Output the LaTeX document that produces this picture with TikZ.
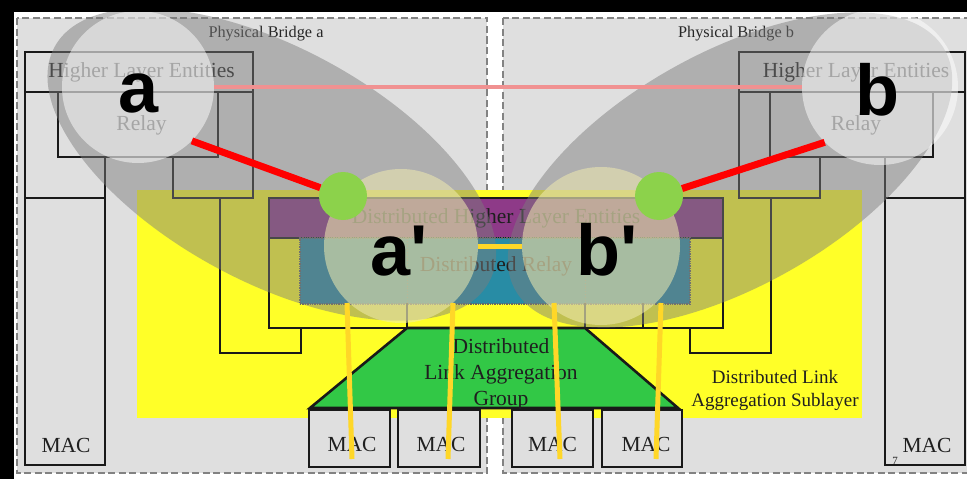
\documentclass[tikz,border=0pt]{standalone}
\usepackage{fontspec}
\setmainfont{Liberation Serif}
\newfontfamily\markfont{Liberation Sans}
\definecolor{bridgebg}{RGB}{223,223,223}
\definecolor{dashgray}{RGB}{130,130,130}
\definecolor{sublayer}{RGB}{255,255,40}
\definecolor{dhle}{RGB}{142,58,136}
\definecolor{drelay}{RGB}{40,140,165}
\definecolor{dlag}{RGB}{50,200,70}
\definecolor{veilgray}{RGB}{124,124,124}
\definecolor{lenstint}{RGB}{240,235,175}
\definecolor{dotgreen}{RGB}{140,210,75}
\definecolor{pinkline}{RGB}{240,145,145}
\definecolor{goldline}{RGB}{255,215,40}
\begin{document}
\begin{tikzpicture}[x=1pt,y=-1pt,
  wire/.style={line width=2.6pt, draw=black!90, line cap=rect, line join=miter},
  bridgebox/.style={fill=bridgebg, draw=dashgray, line width=2.2pt, dash pattern=on 7pt off 3.5pt},
  txt/.style={inner sep=0pt, text=black!88, font=\fontsize{21.5}{26}\selectfont},
  smalltxt/.style={inner sep=0pt, text=black!85, font=\fontsize{16.3}{19}\selectfont},
  sublbl/.style={inner sep=0pt, text=black!88, align=center, font=\fontsize{19}{23}\selectfont},
  plainbox/.style={wire, rectangle, inner sep=0pt},
  macbox/.style={plainbox, fill=bridgebg, minimum height=57pt},
  veil/.style={fill=veilgray, fill opacity=.48},
  lensgray/.style={circle, inner sep=0pt, fill=white, fill opacity=.5},
  lenswarm/.style={circle, inner sep=0pt, fill=lenstint, fill opacity=.55},
  greendot/.style={circle, inner sep=0pt, minimum size=48pt, fill=dotgreen},
  redlink/.style={draw=red, line width=7pt},
  pinklink/.style={draw=pinkline, line width=4pt},
  goldlink/.style={draw=goldline, line width=5pt},
  bigletter/.style={inner sep=0pt, anchor=base, text=black, font=\markfont\bfseries\fontsize{72}{72}\selectfont},
]
% frame
\fill[black] (0,0) rectangle (967,479);
\fill[white] (14,12) rectangle (967,479);
\begin{scope}
\clip (14,12) rectangle (967,479);

% two physical bridges
\draw[bridgebox] (17,18) rectangle (487,473);
\draw[bridgebox] (503,18) rectangle (980,473);
\node[smalltxt] (pba) at (266,34) {Physical Bridge a};
\node[smalltxt] (pbb) at (736,34) {Physical Bridge b};

% distributed link aggregation sublayer
\fill[sublayer] (137,190) rectangle (862,418);
\node[sublbl] (dlas) at (775,390) {Distributed Link\\Aggregation Sublayer};

% bridge a internals
\node[plainbox, minimum width=228pt, minimum height=40pt] (hlea) at (139,72) {};
\node[txt] (hleatxt) at (141.5,72) {Higher Layer Entities};
\node[plainbox, minimum width=160pt, minimum height=65pt] (relaya) at (138,124.5) {};
\node[txt] (relayatxt) at (141.5,125) {Relay};
\draw[wire] (25,92) -- (25,465) -- (105,465) -- (105,157);
\draw[wire] (25,198) -- (105,198);
\draw[wire] (173,157) -- (173,198) -- (253,198) -- (253,92);
\draw[wire] (220,198) -- (220,353) -- (301,353) -- (301,328);
\node[txt] (maca) at (66,445) {MAC};

% bridge b internals
\node[plainbox, minimum width=226pt, minimum height=40pt] (hleb) at (852,72) {};
\node[txt] (hlebtxt) at (856,72) {Higher Layer Entities};
\node[plainbox, minimum width=163pt, minimum height=65pt] (relayb) at (851.5,124.5) {};
\node[txt] (relaybtxt) at (856,125) {Relay};
\draw[wire] (965,92) -- (965,465) -- (885,465) -- (885,157);
\draw[wire] (885,198) -- (965,198);
\draw[wire] (820,157) -- (820,198) -- (739,198) -- (739,92);
\draw[wire] (771,198) -- (771,353) -- (690,353) -- (690,328);
\node[txt] (macb) at (927,445) {MAC};

% distributed relay block
\node[plainbox, fill=dhle, minimum width=454pt, minimum height=40pt] (dhle) at (496,218) {};
\node[txt] (dhletxt) at (496,218) {Distributed Higher Layer Entities};
\node[rectangle, inner sep=0pt, fill=drelay, draw=black!60, line width=1.4pt, densely dotted,
      minimum width=390pt, minimum height=66pt] (drelay) at (495,271) {};
\draw[black!55, line width=.8pt, dotted] (407,238) -- (407,304) (585,238) -- (585,304);
\node[txt] (drelaytxt) at (496,266) {Distributed Relay};
\draw[wire] (269,238) -- (269,328) -- (723,328) -- (723,238);
\draw[wire] (348,304) -- (348,328) (407,304) -- (407,328) (585,304) -- (585,328) (643,304) -- (643,328);

% distributed link aggregation group
\filldraw[wire, fill=dlag] (407,328) -- (585,328) -- (678,408) -- (310,408) -- cycle;
\node[txt, align=center] (dlag) at (501,374) {Distributed\\Link Aggregation\\Group};

% aggregated port MACs
\node[macbox, minimum width=81pt] (mac1) at (349.5,438.5) {};
\node[macbox, minimum width=82pt] (mac2) at (439,438.5) {};
\node[macbox, minimum width=81pt] (mac3) at (552.5,438.5) {};
\node[macbox, minimum width=80pt] (mac4) at (642,438.5) {};
\node[txt] (mac1txt) at (352,444) {MAC};
\node[txt] (mac2txt) at (441,444) {MAC};
\node[txt] (mac3txt) at (552.5,444) {MAC};
\node[txt] (mac4txt) at (646,444) {MAC};
\node[inner sep=0pt, text=black!85, font=\fontsize{11}{12}\selectfont] (pgnum) at (895,461) {7};

% emulated systems
\fill[veil, rotate around={-28.4:(271.8,164.5)}] (271.8,164.5) ellipse [x radius=247, y radius=117];
\fill[veil, rotate around={29.2:(730,170)}] (730,170) ellipse [x radius=246, y radius=117];

\node[lensgray, minimum size=152pt] (a) at (138,87) {};
\node[lensgray, minimum size=156pt] (b) at (880,87) {};
\node[lenswarm, minimum size=154pt] (a2) at (401,246) {};
\node[lenswarm, minimum size=158pt] (b2) at (601,246) {};

\node[greendot] (ga) at (343,196) {};
\node[greendot] (gb) at (659,196) {};

\draw[pinklink] (a) -- (b);
\draw[redlink] (a.-45) -- (ga);
\draw[redlink] (b.-135) -- (gb);
\draw[goldlink] (a2) -- (b2);

\coordinate (r1t) at (347,303); \coordinate (r1b) at (352,459);
\coordinate (r2t) at (453,303); \coordinate (r2b) at (448,459);
\coordinate (r3t) at (554,303); \coordinate (r3b) at (560,459);
\coordinate (r4t) at (661,303); \coordinate (r4b) at (656,459);
\draw[goldlink] (r1t) -- (r1b);
\draw[goldlink] (r2t) -- (r2b);
\draw[goldlink] (r3t) -- (r3b);
\draw[goldlink] (r4t) -- (r4b);

\node[bigletter] (la) at (138.5,112) {a};
\node[bigletter] (lb) at (877,115) {b};
\node[bigletter] (la2) at (399.5,275) {a\textquotesingle};
\node[bigletter] (lb2) at (607.5,275) {b\textquotesingle};
\end{scope}
\end{tikzpicture}
\end{document}
